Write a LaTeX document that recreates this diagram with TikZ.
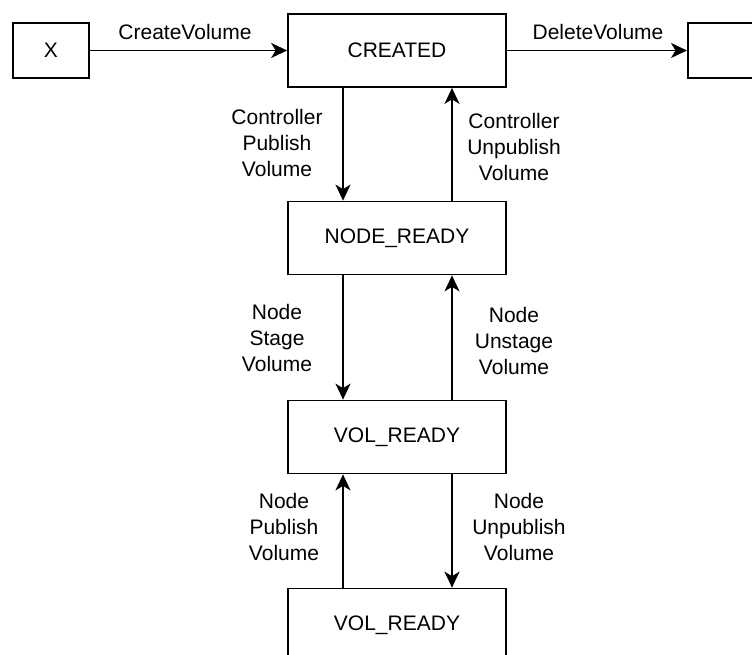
\documentclass[tikz,border=0pt]{standalone}
\usepackage{fontspec}
\setmainfont{Liberation Sans}
\usetikzlibrary{arrows.meta}
\begin{document}
\begin{tikzpicture}[x=1pt,y=-1pt,
  every node/.style={font=\fontsize{21}{26.3}\selectfont},
  state/.style={draw, line width=1.7pt, minimum width=218pt, minimum height=73pt, inner sep=0pt},
  small/.style={draw, line width=1.7pt, minimum width=76pt, minimum height=55pt, inner sep=0pt},
  arr/.style={line width=1.7pt, -{Stealth[length=16pt,width=15pt,inset=4.5pt]}},
  lbl/.style={align=center, inner sep=0pt}]
\useasboundingbox (0,0) rectangle (752,655);
\clip (0,0) rectangle (752,655);
\node[small] (x) at (51,50.5) {X};
\node[state] (created) at (397,50.5) {CREATED};
\node[small, anchor=west] (del) at (687,50.5) {};
\node[state] (nr) at (397,238) {NODE\_READY};
\node[state] (vr) at (397,437) {VOL\_READY};
\node[state] (vr2) at (397,625) {VOL\_READY};

\draw[arr] (x) -- (created);
\draw[arr] (created) -- (del);
\node[lbl] at (185,32) {CreateVolume};
\node[lbl] at (598,32) {DeleteVolume};

\draw[arr] ([xshift=-54pt]created.south) -- ([xshift=-54pt]nr.north);
\draw[arr] ([xshift=55pt]nr.north) -- ([xshift=55pt]created.south);
\draw[arr] ([xshift=-54pt]nr.south) -- ([xshift=-54pt]vr.north);
\draw[arr] ([xshift=55pt]vr.north) -- ([xshift=55pt]nr.south);
\draw[arr] ([xshift=-54pt]vr2.north) -- ([xshift=-54pt]vr.south);
\draw[arr] ([xshift=55pt]vr.south) -- ([xshift=55pt]vr2.north);

\node[lbl] at (277,143) {Controller\\Publish\\Volume};
\node[lbl] at (514,147) {Controller\\Unpublish\\Volume};
\node[lbl] at (277,338) {Node\\Stage\\Volume};
\node[lbl] at (514,341) {Node\\Unstage\\Volume};
\node[lbl] at (284,527) {Node\\Publish\\Volume};
\node[lbl] at (519,527) {Node\\Unpublish\\Volume};
\end{tikzpicture}
\end{document}
